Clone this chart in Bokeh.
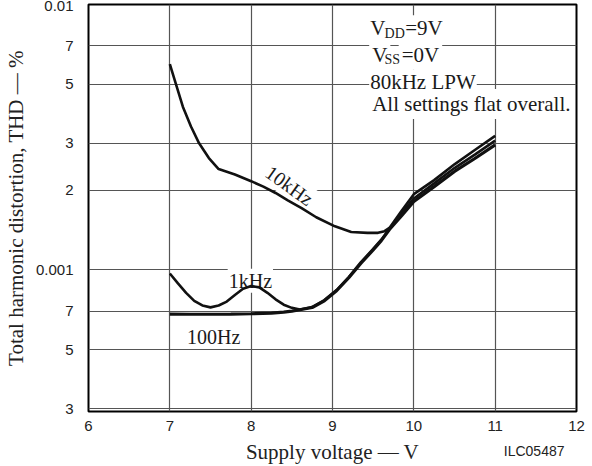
from bokeh.plotting import figure
from bokeh.models import Label, FixedTicker, Title
from bokeh.core.properties import value
from bokeh.embed import file_html
from bokeh.resources import INLINE

# ---- data ----
volt_10k = [7.0, 7.06, 7.16, 7.26, 7.36, 7.48, 7.6, 7.8, 8.0, 8.15, 8.3, 8.45, 8.62, 8.8, 9.03,
            9.23, 9.43, 9.56, 9.64, 9.7, 9.85, 10.0, 10.25, 10.5, 10.75, 11.0]
thd_10k = [5.96e-3, 5.19e-3, 4.12e-3, 3.47e-3, 3.0e-3, 2.64e-3, 2.4e-3, 2.29e-3, 2.16e-3, 2.06e-3,
           1.95e-3, 1.83e-3, 1.71e-3, 1.58e-3, 1.46e-3, 1.39e-3, 1.38e-3, 1.38e-3, 1.40e-3, 1.44e-3,
           1.67e-3, 1.93e-3, 2.18e-3, 2.5e-3, 2.83e-3, 3.2e-3]

volt_1k = [7.0, 7.1, 7.2, 7.3, 7.4, 7.5, 7.6, 7.7, 7.8, 7.9, 8.0, 8.1, 8.2, 8.3, 8.4, 8.5, 8.6,
           8.75, 8.9, 9.05, 9.2, 9.35, 9.5, 9.6, 9.7, 9.85, 10.0, 10.25, 10.5, 10.75, 11.0]
thd_1k = [9.7e-4, 8.9e-4, 8.2e-4, 7.65e-4, 7.35e-4, 7.23e-4, 7.35e-4, 7.6e-4, 8.05e-4, 8.5e-4,
          8.7e-4, 8.6e-4, 8.2e-4, 7.75e-4, 7.4e-4, 7.2e-4, 7.1e-4, 7.25e-4, 7.7e-4, 8.4e-4,
          9.4e-4, 1.07e-3, 1.2e-3, 1.3e-3, 1.43e-3, 1.63e-3, 1.86e-3, 2.12e-3, 2.42e-3, 2.72e-3, 3.07e-3]

volt_100 = [7.0, 7.25, 7.5, 7.75, 8.0, 8.25, 8.4, 8.5, 8.6, 8.75, 8.9, 9.05, 9.2, 9.35, 9.5, 9.6,
            9.7, 9.85, 10.0, 10.25, 10.5, 10.75, 11.0]
thd_100 = [6.82e-4, 6.81e-4, 6.81e-4, 6.82e-4, 6.84e-4, 6.88e-4, 6.94e-4, 7.0e-4, 7.08e-4, 7.22e-4,
           7.65e-4, 8.35e-4, 9.35e-4, 1.06e-3, 1.19e-3, 1.29e-3, 1.42e-3, 1.6e-3, 1.81e-3, 2.06e-3,
           2.35e-3, 2.63e-3, 2.96e-3]

x_ticks = [6, 7, 8, 9, 10, 11, 12]
y_ticks = [0.0003, 0.0005, 0.0007, 0.001, 0.002, 0.003, 0.005, 0.007, 0.01]
y_tick_labels = ["3", "5", "7", "0.001", "2", "3", "5", "7", "0.01"]
y_limits = (2.93e-4, 0.01)

curve_label_text = ["10kHz", "1kHz", "100Hz"]
curve_label_v = [8.47, 7.99, 7.54]
curve_label_thd = [2.08e-3, 9.1e-4, 5.59e-4]

SERIF = "Liberation Serif"
SANS = "Liberation Sans"
INK = "#111111"
GRID = "#555555"

p = figure(width=592, height=466, x_range=(x_ticks[0], x_ticks[-1]), y_range=y_limits,
           y_axis_type="log", output_backend="svg", toolbar_location=None,
           min_border_left=85, min_border_right=16, min_border_top=4, min_border_bottom=53)
p.background_fill_color = "white"
p.border_fill_color = "white"
p.outline_line_color = "black"
p.outline_line_width = 2

p.xaxis.ticker = FixedTicker(ticks=x_ticks)
p.yaxis.ticker = FixedTicker(ticks=y_ticks)
p.yaxis.major_label_overrides = dict(zip(y_ticks, y_tick_labels))

for ax in (p.xaxis[0], p.yaxis[0]):
    ax.axis_line_color = None
    ax.major_tick_line_color = None
    ax.minor_tick_line_color = None
    ax.major_label_text_font = SANS
    ax.major_label_text_font_size = "15px"
    ax.major_label_text_color = "#222222"
    ax.axis_label_text_font = SERIF
    ax.axis_label_text_font_size = "21px"
    ax.axis_label_text_font_style = "normal"
    ax.axis_label_text_color = "#222222"

p.xaxis.axis_label = "Supply voltage — V"
p.yaxis.axis_label = "Total harmonic distortion, THD — %"
p.xaxis.major_label_standoff = 3
p.xaxis.axis_label_standoff = 6
p.yaxis.major_label_standoff = 9
p.yaxis.axis_label_standoff = 5

# grid at the tick values
for g, t in ((p.xgrid[0], x_ticks), (p.ygrid[0], y_ticks)):
    g.ticker = FixedTicker(ticks=t)
    g.grid_line_color = GRID
    g.grid_line_width = 1.2
    g.grid_line_alpha = 1.0
    g.minor_grid_line_color = None

# curve labels (white boxes interrupt the grid, curves drawn over them)
p.text(x=curve_label_v[:1], y=curve_label_thd[:1], text=curve_label_text[:1], angle=-0.62,
       text_font=value(SERIF), text_font_size="20px", text_color="#1a1a1a",
       text_align="center", text_baseline="middle",
       background_fill_color="white", padding=1)
p.text(x=curve_label_v[1:], y=curve_label_thd[1:], text=curve_label_text[1:],
       text_font=value(SERIF), text_font_size="20px", text_color="#1a1a1a",
       text_align="center", text_baseline="alphabetic",
       background_fill_color="white", padding=1)

p.line(volt_100, thd_100, line_width=3.2, line_color=INK)
p.line(volt_1k, thd_1k, line_width=2.6, line_color=INK)
p.line(volt_10k, thd_10k, line_width=2.6, line_color=INK)


def lab(x, y, text, size="21px", **kw):
    opts = dict(x=x, y=y, text=text, text_font=SERIF, text_font_size=size,
                text_color="#1a1a1a", background_fill_color="white", padding=1,
                text_baseline="alphabetic")
    opts.update(kw)
    p.add_layout(Label(**opts))


# condition block
bx = 9.451
lab(bx, 8.13e-3, "V")
lab(bx, 8.13e-3, "=9V", x_offset=35)
lab(bx, 8.13e-3, "DD", size="14px", x_offset=14.4, y_offset=-5, background_fill_color=None)
lab(bx, 6.48e-3, "V", padding=3)
lab(bx, 6.48e-3, "=0V", x_offset=29.5, padding=3)
lab(bx, 6.48e-3, "SS", size="14px", x_offset=14.4, y_offset=-5, background_fill_color=None)
lab(bx, 5.1e-3, "80kHz LPW")
lab(bx, 4.22e-3, "All settings flat overall.", padding=3)

# figure code, in the bottom margin on the axis-title row
code = Title(text="ILC05487", align="right", offset=12, vertical_align="top", standoff=-48,
             text_font=SANS, text_font_size="14px", text_font_style="normal",
             text_color="#222222")
p.add_layout(code, "below")

html = file_html(p, INLINE)
html = html.replace("<body>", '<body style="margin:0;">', 1)
open("out.html", "w").write(html)
